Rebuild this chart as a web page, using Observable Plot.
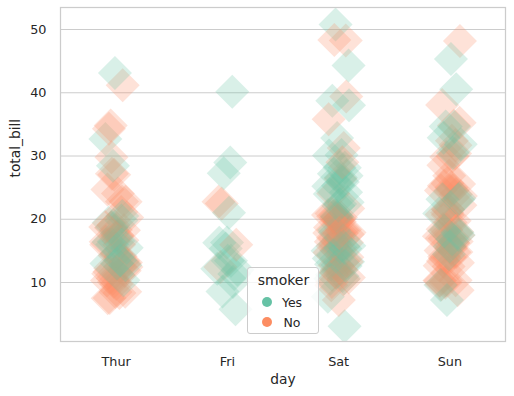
<!DOCTYPE html>
<html>
<head>
<meta charset="utf-8">
<script src="https://cdn.jsdelivr.net/npm/d3@7"></script>
<script src="https://cdn.jsdelivr.net/npm/@observablehq/plot@0.6"></script>
<style>
  body { margin: 0; background: #ffffff; }
  #chart { position: relative; width: 514px; height: 396px; }
</style>
</head>
<body>
<div id="chart"></div>
<script>
// ---- data ----
const days = ["Thur", "Fri", "Sat", "Sun"];
const smokerLevels = ["Yes", "No"];
const smokerColors = ["#66c2a5", "#fc8d62"];
const yTicks = [10, 20, 30, 40, 50];

const thurBill = [27.20,22.76,17.29,19.44,16.66,10.07,32.68,15.98,34.83,13.03,18.28,24.71,21.16,
  10.65,12.43,24.08,11.69,13.42,14.26,15.95,12.48,29.80,8.52,14.52,11.38,22.82,19.08,20.27,11.17,12.26,18.26,8.51,10.33,14.15,16.00,13.16,17.47,34.30,41.19,27.05,16.43,8.35,18.64,11.87,9.78,7.51,
  19.81,28.44,15.48,16.58,7.56,10.34,43.11,13.00,13.51,18.71,12.74,13.00,16.40,20.53,16.47,
  18.78];
const thurSmoker = "NNNYNNYNNNNNN" + "N".repeat(21) + "Y" + "N".repeat(11) + "YYYYNYYYYYYYYYY" + "N";

const friBill = [28.97,22.49,5.75,16.32,22.75,40.17,27.28,12.03,21.01,12.46,11.35,15.38,
  12.16,13.42,8.58,15.98,13.42,16.27,10.09];
const friSmoker = "YNYYNYYYYNYY" + "YYYNYYY";

const satBill = [20.65,17.92,20.29,15.77,39.42,19.82,17.81,13.37,12.69,21.70,19.65,9.55,18.35,15.06,20.69,17.78,24.06,16.31,16.93,18.69,31.27,16.04,
  38.01,26.41,11.24,48.27,20.29,13.81,11.02,18.29,17.59,20.08,16.45,3.07,20.23,15.01,12.02,17.07,26.86,25.28,14.73,10.51,17.92,
  44.30,22.42,20.92,15.36,20.49,25.21,18.24,14.31,14.00,7.25,
  10.59,10.63,50.81,15.81,
  26.59,38.73,24.27,12.76,30.06,25.89,48.33,13.27,28.17,12.90,28.15,11.59,7.74,30.14,
  20.45,13.28,22.12,24.01,15.69,11.61,10.77,15.53,10.07,12.60,32.83,35.83,29.03,27.18,22.67,17.82];
const satSmoker = "N".repeat(22) + "YNYNYYYYNNNYNYNNYYNNY" + "YYNYYYNYNN" + "YYYY" + "YYYYYYNYYYYYYY" + "NNYYYNNYNYYNNYYN";

const sunBill = [16.99,10.34,21.01,23.68,24.59,25.29,8.77,26.88,15.04,14.78,10.27,35.26,15.42,18.43,14.83,21.58,10.33,16.29,16.97,
  17.46,13.94,9.68,30.40,18.29,22.23,32.40,28.55,18.04,12.54,10.29,34.81,9.94,25.56,19.49,
  38.07,23.95,25.71,17.31,29.93,
  14.07,13.13,17.26,24.55,19.77,29.85,48.17,25.00,13.39,16.49,21.50,12.66,16.21,13.81,17.51,24.52,20.76,31.71,
  7.25,31.85,16.82,32.90,17.89,14.48,9.60,34.63,34.65,23.33,45.35,23.17,40.55,20.69,20.90,30.46,18.15,23.10,15.69];
const sunSmoker = "N".repeat(53) + "Y" + "NNN" + "Y".repeat(13) + "N" + "Y".repeat(5);

// ---- build table (deterministic jitter within ±0.1 category units) ----
const groups = [[thurBill, thurSmoker], [friBill, friSmoker], [satBill, satSmoker], [sunBill, sunSmoker]];
const rows = [];
let k = 0;
groups.forEach(([bills, codes], d) => {
  bills.forEach((b, i) => {
    const j = ((k++ * 0.6180339887 + 0.31) % 1) - 0.5;
    rows.push({pos: d + j * 0.2, bill: b, smoker: codes[i] === "Y" ? "Yes" : "No"});
  });
});

// square diamond (seaborn "D" marker)
const diamond = {
  draw(ctx, size) {
    const h = Math.sqrt(size / Math.PI);
    ctx.moveTo(0, -h); ctx.lineTo(h, 0); ctx.lineTo(0, h); ctx.lineTo(-h, 0); ctx.closePath();
  }
};

const chart = Plot.plot({
  width: 514, height: 396,
  marginLeft: 60, marginRight: 9, marginTop: 7, marginBottom: 55,
  style: {fontFamily: "'DejaVu Sans', sans-serif", fontSize: "12.8px", color: "#262626", background: "#ffffff"},
  x: {domain: [-0.5, 3.5]},
  y: {domain: [0.67, 53.48]},
  color: {domain: smokerLevels, range: smokerColors},
  marks: [
    Plot.gridY(yTicks, {stroke: "#cccccc", strokeOpacity: 1, strokeWidth: 1}),
    Plot.dot(rows, {x: "pos", y: "bill", fill: "smoker", fillOpacity: 0.25, symbol: diamond, r: 17, clip: true}),
    Plot.frame({stroke: "#cccccc", strokeWidth: 1.25}),
    Plot.axisX(days.map((_, i) => i), {tickFormat: i => days[i], tickSize: 0, tickPadding: 15, label: null, fontSize: 12.8}),
    Plot.axisY(yTicks, {tickSize: 0, tickPadding: 14, label: null, fontSize: 12.8}),
    Plot.text(["day"], {text: d => d, frameAnchor: "bottom", dy: 38, fontSize: 13.8, lineAnchor: "middle"}),
    Plot.text(["total_bill"], {text: d => d, frameAnchor: "left", dx: -45, dy: 3, rotate: -90, fontSize: 13.8, lineAnchor: "middle"})
  ]
});

// legend
const svg = d3.select(chart);
const lg = svg.append("g").attr("font-family", "'DejaVu Sans', sans-serif");
lg.append("rect").attr("x", 247.5).attr("y", 267.5).attr("width", 71).attr("height", 66).attr("rx", 2.5)
  .attr("fill", "#ffffff").attr("fill-opacity", 0.8).attr("stroke", "#cccccc");
lg.append("text").attr("x", 283.5).attr("y", 285).attr("text-anchor", "middle")
  .attr("font-size", 14).attr("fill", "#262626").text("smoker");
smokerLevels.forEach((s, i) => {
  lg.append("circle").attr("cx", 267).attr("cy", 302 + 20 * i).attr("r", 5).attr("fill", smokerColors[i]);
  lg.append("text").attr("x", 292).attr("y", 306.5 + 20 * i).attr("font-size", 12.5)
    .attr("fill", "#262626").text(s);
});

document.getElementById("chart").appendChild(chart);
</script>
</body>
</html>
